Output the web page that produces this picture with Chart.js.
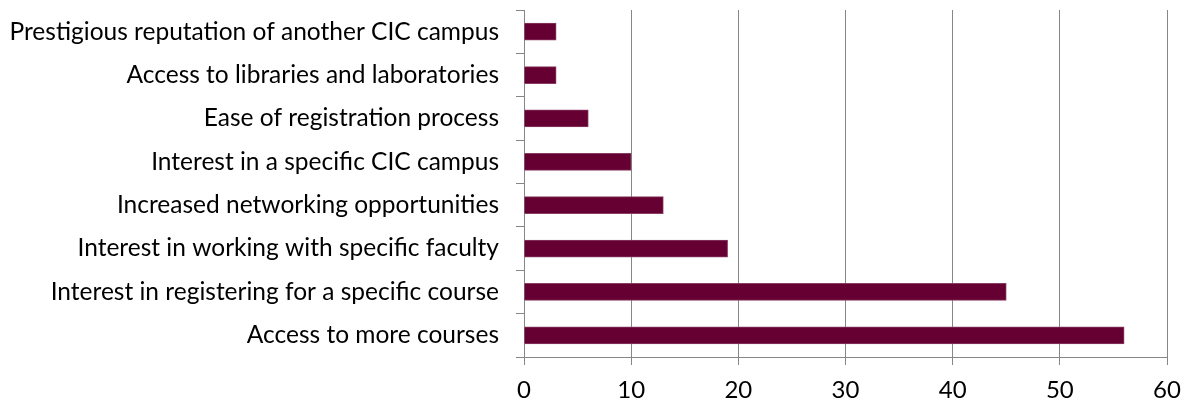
<!DOCTYPE html>
<html>
<head>
<meta charset="utf-8">
<script src="https://cdn.jsdelivr.net/npm/chart.js@4/dist/chart.umd.min.js"></script>
<style>
  body { margin: 0; background: #fff; }
  #wrap { width: 1188px; height: 406px; }
</style>
</head>
<body>
<div id="wrap"><canvas id="chart" width="1188" height="406"></canvas></div>
<script>
// reasons listed top to bottom as in the picture
const reasons = [
  "Prestigious reputation of another CIC campus",
  "Access to libraries and laboratories",
  "Ease of registration process",
  "Interest in a specific CIC campus",
  "Increased networking opportunities",
  "Interest in working with specific faculty",
  "Interest in registering for a specific course",
  "Access to more courses",
];
const counts = [3, 3, 6, 10, 13, 19, 45, 56];
const xMin = 0;
const xMax = 60;
const xStep = 10;

const axisGray = "#868686";
const barColor = "#660033";

new Chart(document.getElementById("chart"), {
  type: "bar",
  data: {
    labels: reasons,
    datasets: [
      {
        data: counts,
        backgroundColor: barColor,
        borderColor: "#8a3d62",
        borderWidth: 1,
        barThickness: 17,
      },
    ],
  },
  options: {
    indexAxis: "y",
    responsive: false,
    animation: false,
    layout: { padding: { top: 10, right: 21, left: 0, bottom: 0 } },
    plugins: {
      legend: { display: false },
      tooltip: { enabled: false },
    },
    scales: {
      x: {
        min: xMin,
        max: xMax,
        ticks: {
          stepSize: xStep,
          color: "#000",
          padding: 11,
          font: { family: "Lato", size: 24 },
        },
        grid: {
          color: axisGray,
          lineWidth: 1,
          tickLength: 8,
        },
        border: { color: axisGray, width: 1 },
        afterFit: function (scale) {
          scale.height = 49;
          scale.paddingLeft = 0;
          scale.paddingRight = 0;
        },
      },
      y: {
        ticks: {
          color: "#000",
          padding: 17,
          font: { family: "Lato", size: 24.5 },
        },
        grid: {
          drawOnChartArea: false,
          color: axisGray,
          tickLength: 8,
        },
        border: { color: axisGray, width: 1 },
        afterFit: function (scale) {
          scale.width = 524;
          scale.paddingTop = 0;
          scale.paddingBottom = 0;
        },
      },
    },
  },
});
</script>
</body>
</html>
